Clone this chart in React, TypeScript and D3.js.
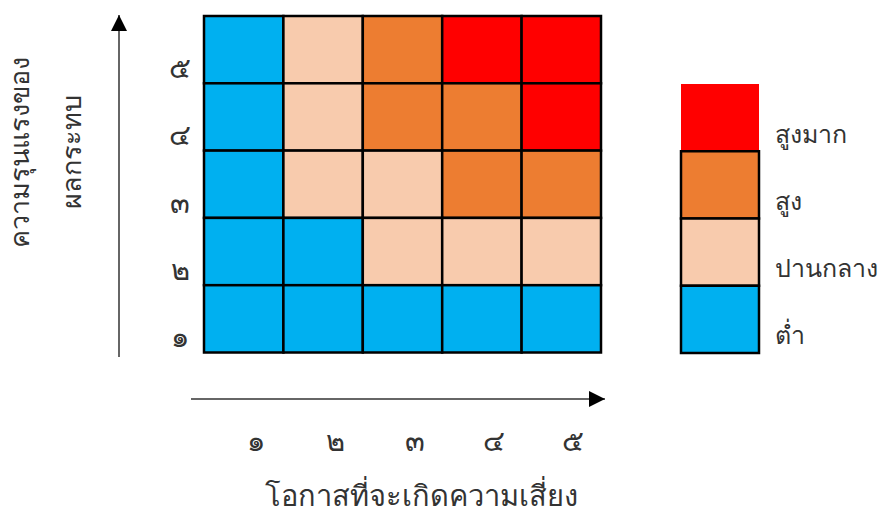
import React from "react";
import * as d3 from "d3";

// Likelihood (x) and severity (y) levels
const likelihood = [1, 2, 3, 4, 5];
const severity = [5, 4, 3, 2, 1];
const thaiDigits = ["๑", "๒", "๓", "๔", "๕"];

// Risk level per cell: rows = severity 5..1, columns = likelihood 1..5
// 0 = ต่ำ, 1 = ปานกลาง, 2 = สูง, 3 = สูงมาก
const row5 = [0, 1, 2, 3, 3];
const row4 = [0, 1, 2, 2, 3];
const row3 = [0, 1, 1, 2, 2];
const row2 = [0, 0, 1, 1, 1];
const row1 = [0, 0, 0, 0, 0];
const matrix = [row5, row4, row3, row2, row1];

const levelNames = ["ต่ำ", "ปานกลาง", "สูง", "สูงมาก"];
const levelColors = ["#00B0F0", "#F8CBAD", "#ED7D31", "#FF0000"];

const xTitle = "โอกาสที่จะเกิดความเสี่ยง";
const yTitle1 = "ความรุนแรงของ";
const yTitle2 = "ผลกระทบ";

const W = 882;
const H = 513;
const FONT = "'Noto Sans', 'DejaVu Sans', sans-serif";
const TEXT = "#333333";

export default function App() {
  const x = d3.scaleBand<number>().domain(likelihood).range([204, 601]).padding(0);
  const y = d3.scaleBand<number>().domain(severity).range([16, 352.5]).padding(0);
  const color = d3.scaleOrdinal<number, string>().domain([0, 1, 2, 3]).range(levelColors);
  const legendY = d3.scaleBand<number>().domain([3, 2, 1, 0]).range([84, 353]).padding(0);

  const cells: { lx: number; sv: number; lvl: number }[] = [];
  matrix.forEach((row, ri) =>
    row.forEach((lvl, ci) => cells.push({ lx: likelihood[ci], sv: severity[ri], lvl }))
  );

  const xArrowY = 399;
  const yArrowX = 119;

  return (
    <svg
      width={W}
      height={H}
      style={{ position: "absolute", left: 0, top: 0, background: "#fff" }}
      fontFamily={FONT}
    >
      <defs>
        <marker id="arr" viewBox="0 0 10 10" refX="10" refY="5" markerWidth="16" markerHeight="16" markerUnits="userSpaceOnUse" orient="auto">
          <path d="M0,0 L10,5 L0,10 Z" fill="#000" />
        </marker>
      </defs>

      {/* cells */}
      {cells.map((c, i) => (
        <rect
          key={i}
          x={x(c.lx)}
          y={y(c.sv)}
          width={x.bandwidth()}
          height={y.bandwidth()}
          fill={color(c.lvl)}
          stroke="#000"
          strokeWidth={2.5}
        />
      ))}

      {/* y tick labels */}
      {severity.map((s) => (
        <text
          key={"yt" + s}
          x={180}
          y={(y(s) as number) + y.bandwidth() / 2 + 17}
          textAnchor="middle"
          dominantBaseline="central"
          fontSize={29}
          fill={TEXT}
        >
          {thaiDigits[s - 1]}
        </text>
      ))}

      {/* x tick labels */}
      {likelihood.map((l) => (
        <text
          key={"xt" + l}
          x={(x(l) as number) + x.bandwidth() / 2 + 12}
          y={439}
          textAnchor="middle"
          dominantBaseline="central"
          fontSize={29}
          fill={TEXT}
        >
          {thaiDigits[l - 1]}
        </text>
      ))}

      {/* arrows */}
      <line x1={191} y1={xArrowY} x2={605} y2={xArrowY} stroke="#333" strokeWidth={1.5} markerEnd="url(#arr)" />
      <line x1={yArrowX} y1={357} x2={yArrowX} y2={15} stroke="#333" strokeWidth={1.5} markerEnd="url(#arr)" />

      {/* axis titles */}
      <text x={421} y={494} textAnchor="middle" dominantBaseline="central" fontSize={29} fill={TEXT}>
        {xTitle}
      </text>
      <text
        transform="translate(18,152) rotate(-90)"
        textAnchor="middle"
        dominantBaseline="central"
        fontSize={27}
        fill={TEXT}
      >
        {yTitle1}
      </text>
      <text
        transform="translate(70,152) rotate(-90)"
        textAnchor="middle"
        dominantBaseline="central"
        fontSize={27}
        fill={TEXT}
      >
        {yTitle2}
      </text>

      {/* legend */}
      {[3, 2, 1, 0].map((lvl) => (
        <g key={"lg" + lvl}>
          <rect
            x={681}
            y={legendY(lvl)}
            width={78}
            height={legendY.bandwidth()}
            fill={color(lvl)}
            stroke={lvl === 3 ? "none" : "#000"}
            strokeWidth={2.5}
          />
          <text
            x={775}
            y={(legendY(lvl) as number) + legendY.bandwidth() / 2 + 15}
            dominantBaseline="central"
            fontSize={25}
            fill={TEXT}
          >
            {levelNames[lvl]}
          </text>
        </g>
      ))}
    </svg>
  );
}
